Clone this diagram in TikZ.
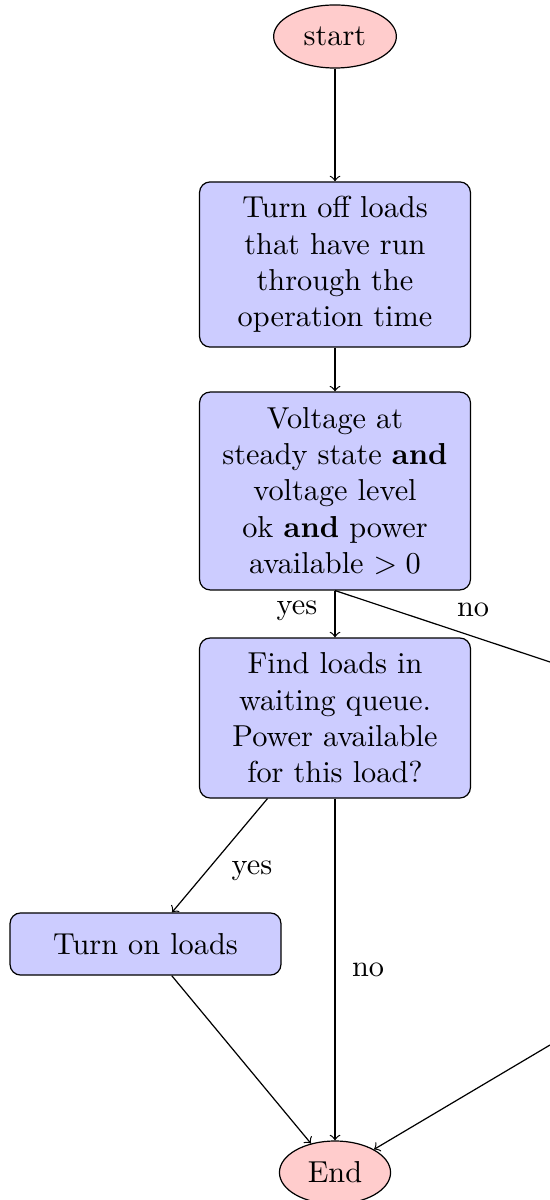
\documentclass[tikz,border=0pt]{standalone}
\usetikzlibrary{shapes.geometric}
\begin{document}
\begin{tikzpicture}[x=0.33pt,y=-0.33pt,
  term/.style={ellipse,draw,fill=red!20,inner xsep=4pt,minimum height=20.8pt},
  procbox/.style={rectangle,rounded corners=3.5pt,draw,fill=blue!20,align=center,minimum width=89.4pt,inner sep=3pt},
  conn/.style={->},
  lbl/.style={inner sep=0pt}]
\useasboundingbox (0,0) rectangle (550,1200);
\node[term] (start) at (335,36.5) {start};
\node[procbox,minimum height=54.5pt] (off) at (335,264.5) {Turn off loads\\that have run\\through the\\operation time};
\node[procbox,minimum height=65.3pt] (check) at (335,491) {Voltage at\\steady state \textbf{and}\\voltage level\\ok \textbf{and} power\\available $>0$};
\node[procbox,minimum height=52.8pt] (find) at (335,718) {Find loads in\\waiting queue.\\Power available\\for this load?};
\node[procbox,minimum height=20.5pt] (on) at (145.5,944) {Turn on loads};
\node[term] (end) at (335,1172.5) {End};
\coordinate (outA) at (550,662);
\coordinate (outB) at (550,1045);
\draw[conn] (start) -- (off);
\draw[conn] (off) -- (check);
\draw[conn] (check) -- (find);
\draw (check.south) -- (outA);
\draw[conn] (find) -- (on);
\draw[conn] (find) -- (end);
\draw[conn] (on) -- (end);
\draw[conn] (outB) -- (end);
\node[lbl] (l1) at (297,611) {yes};
\node[lbl] (l2) at (473,610) {no};
\node[lbl] (l3) at (252,871) {yes};
\node[lbl] (l4) at (368,970) {no};
\end{tikzpicture}
\end{document}
